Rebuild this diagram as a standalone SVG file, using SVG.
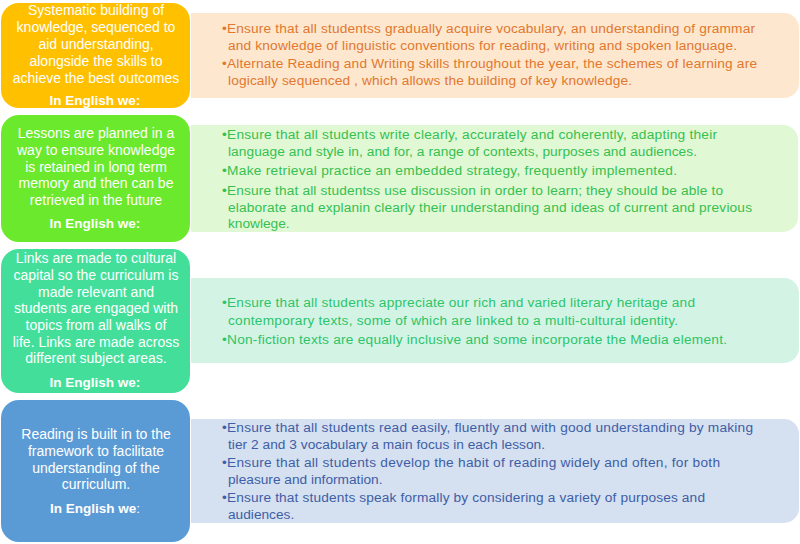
<svg xmlns="http://www.w3.org/2000/svg" width="800" height="544" viewBox="0 0 800 544">
<style>
.lt{font-family:"Liberation Sans",Arial,sans-serif;font-size:14px;fill:#ffffff;text-anchor:middle}
.hd{font-family:"Liberation Sans",Arial,sans-serif;font-size:13.5px;font-weight:bold;fill:#ffffff;text-anchor:middle}
.rt{font-family:"Liberation Sans",Arial,sans-serif;font-size:13.7px}
.o{fill:#E2772E}.g{fill:#35C050}.m{fill:#2DC46A}.b{fill:#3E5EA6}
</style>
<rect width="800" height="544" fill="#ffffff"/>
<g id="row1">
<path d="M191 13 H784 A15 15 0 0 1 799 28 V83 A15 15 0 0 1 784 98 H191 Z" fill="#FDE7CE"/>
<rect x="1" y="3" width="189" height="105" rx="18" fill="#FFC000"/>
<text class="lt" x="96" y="15">Systematic building of</text>
<text class="lt" x="96" y="32">knowledge, sequenced to</text>
<text class="lt" x="96" y="49">aid understanding,</text>
<text class="lt" x="96" y="66">alongside the skills to</text>
<text class="lt" x="96" y="83">achieve the best outcomes</text>
<text class="hd" x="95" y="105">In English we:</text>
<text class="rt o" x="222" y="33" textLength="533">•Ensure that all studentss gradually acquire vocabulary, an understanding of grammar</text>
<text class="rt o" x="228" y="50" textLength="509">and knowledge of linguistic conventions for reading, writing and spoken language.</text>
<text class="rt o" x="222" y="68" textLength="535">•Alternate Reading and Writing skills throughout the year, the schemes of learning are</text>
<text class="rt o" x="228" y="85" textLength="404">logically sequenced , which allows the building of key knowledge.</text>
</g>
<g id="row2">
<path d="M191 125 H783 A15 15 0 0 1 798 140 V217 A15 15 0 0 1 783 232 H191 Z" fill="#E1F8D4"/>
<rect x="1" y="115" width="189" height="127" rx="18" fill="#6BE92C"/>
<text class="lt" x="96" y="138">Lessons are planned in a</text>
<text class="lt" x="96" y="155">way to ensure knowledge</text>
<text class="lt" x="96" y="172">is retained in long term</text>
<text class="lt" x="96" y="188">memory and then can be</text>
<text class="lt" x="96" y="205">retrieved in the future</text>
<text class="hd" x="95" y="228">In English we:</text>
<text class="rt g" x="222" y="139" textLength="495">•Ensure that all students write clearly, accurately and coherently, adapting their</text>
<text class="rt g" x="228" y="156" textLength="469">language and style in, and for, a range of contexts, purposes and audiences.</text>
<text class="rt g" x="222" y="175" textLength="455">•Make retrieval practice an embedded strategy, frequently implemented.</text>
<text class="rt g" x="222" y="195" textLength="501">•Ensure that all studentss use discussion in order to learn; they should be able to</text>
<text class="rt g" x="228" y="212" textLength="524">elaborate and explanin clearly their understanding and ideas of current and previous</text>
<text class="rt g" x="228" y="228">knowlege.</text>
</g>
<g id="row3">
<path d="M191 278 H784 A15 15 0 0 1 799 293 V348 A15 15 0 0 1 784 363 H191 Z" fill="#D3F4E5"/>
<rect x="1" y="249" width="189" height="144" rx="18" fill="#43DF9A"/>
<text class="lt" x="96" y="263">Links are made to cultural</text>
<text class="lt" x="96" y="280">capital so the curriculum is</text>
<text class="lt" x="96" y="297">made relevant and</text>
<text class="lt" x="96" y="313">students are engaged with</text>
<text class="lt" x="96" y="330">topics from all walks of</text>
<text class="lt" x="96" y="347">life. Links are made across</text>
<text class="lt" x="96" y="363">different subject areas.</text>
<text class="hd" x="95" y="387">In English we:</text>
<text class="rt m" x="222" y="307" textLength="473">•Ensure that all students appreciate our rich and varied literary heritage and</text>
<text class="rt m" x="228" y="325" textLength="450">contemporary texts, some of which are linked to a multi-cultural identity.</text>
<text class="rt m" x="222" y="344" textLength="505">•Non-fiction texts are equally inclusive and some incorporate the Media element.</text>
</g>
<g id="row4">
<path d="M191 419 H784 A15 15 0 0 1 799 434 V508 A15 15 0 0 1 784 523 H191 Z" fill="#D5E0F0"/>
<rect x="1" y="400" width="189" height="142" rx="18" fill="#5B9BD5"/>
<text class="lt" x="96" y="439">Reading is built in to the</text>
<text class="lt" x="96" y="456">framework to facilitate</text>
<text class="lt" x="96" y="473">understanding of the</text>
<text class="lt" x="96" y="489">curriculum.</text>
<text class="hd" x="95" y="513">In English we<tspan font-weight="normal">:</tspan></text>
<text class="rt b" x="222" y="432" textLength="531">•Ensure that all students read easily, fluently and with good understanding by making</text>
<text class="rt b" x="228" y="449" textLength="317">tier 2 and 3 vocabulary a main focus in each lesson.</text>
<text class="rt b" x="222" y="467" textLength="498">•Ensure that all students develop the habit of reading widely and often, for both</text>
<text class="rt b" x="228" y="484">pleasure and information.</text>
<text class="rt b" x="222" y="502" textLength="483">•Ensure that students speak formally by considering a variety of purposes and</text>
<text class="rt b" x="228" y="519">audiences.</text>
</g>
<g id="connectors"></g>
</svg>
